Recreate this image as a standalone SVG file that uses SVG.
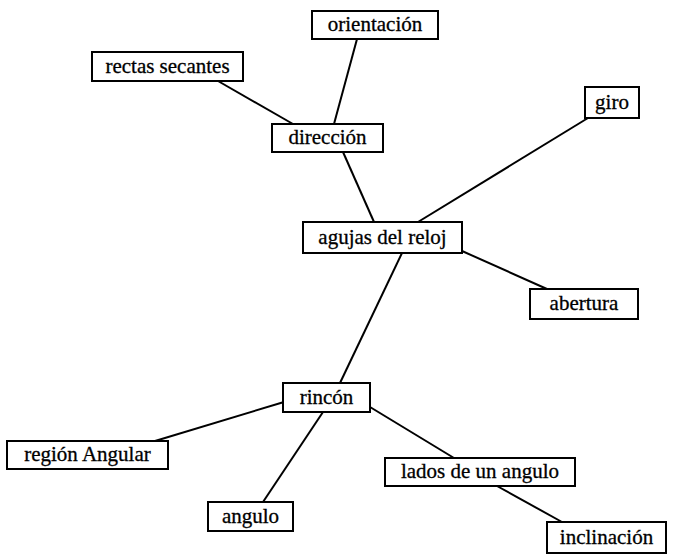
<svg xmlns="http://www.w3.org/2000/svg" width="675" height="555" viewBox="0 0 675 555">
  <style>
    .box { fill: #fff; stroke: #000; stroke-width: 2; }
    .lbl { font-family: "Liberation Serif", "DejaVu Serif", serif; font-size: 21px; fill: #000; stroke: #000; stroke-width: 0.3; text-anchor: middle; dominant-baseline: central; }
    .edge { stroke: #000; stroke-width: 2; fill: none; }
  </style>
  <rect width="675" height="555" fill="#fff"/>
  <g id="connectors">
    <line class="edge" x1="218" y1="81" x2="293" y2="124"/>
    <line class="edge" x1="357" y1="39" x2="334" y2="124"/>
    <line class="edge" x1="343" y1="152" x2="374" y2="222"/>
    <line class="edge" x1="588" y1="118" x2="418" y2="222"/>
    <line class="edge" x1="462" y1="251" x2="547" y2="289"/>
    <line class="edge" x1="402" y1="253" x2="340" y2="383"/>
    <line class="edge" x1="284" y1="402" x2="155" y2="441"/>
    <line class="edge" x1="323" y1="412" x2="263" y2="502"/>
    <line class="edge" x1="370" y1="407" x2="454" y2="458"/>
    <line class="edge" x1="497" y1="486" x2="562" y2="522"/>
  </g>
  <g id="orientacion">
    <rect class="box" x="312" y="11" width="126" height="28"/>
    <text class="lbl" x="375" y="24">orientación</text>
  </g>
  <g id="rectas-secantes">
    <rect class="box" x="92" y="52" width="151" height="29"/>
    <text class="lbl" x="167.5" y="65.5">rectas secantes</text>
  </g>
  <g id="direccion">
    <rect class="box" x="272" y="124" width="111" height="28"/>
    <text class="lbl" x="327.5" y="137">dirección</text>
  </g>
  <g id="giro">
    <rect class="box" x="585" y="87" width="54" height="31"/>
    <text class="lbl" x="612" y="101.5">giro</text>
  </g>
  <g id="agujas-del-reloj">
    <rect class="box" x="303" y="222" width="159" height="31"/>
    <text class="lbl" x="382.5" y="236.5">agujas del reloj</text>
  </g>
  <g id="abertura">
    <rect class="box" x="530" y="289" width="108" height="30"/>
    <text class="lbl" x="584" y="303">abertura</text>
  </g>
  <g id="rincon">
    <rect class="box" x="283" y="383" width="87" height="29"/>
    <text class="lbl" x="326.5" y="396.5">rincón</text>
  </g>
  <g id="region-angular">
    <rect class="box" x="7" y="441" width="161" height="28"/>
    <text class="lbl" x="87.5" y="454">región Angular</text>
  </g>
  <g id="lados-de-un-angulo">
    <rect class="box" x="385" y="458" width="190" height="28"/>
    <text class="lbl" x="480" y="471">lados de un angulo</text>
  </g>
  <g id="angulo">
    <rect class="box" x="208" y="502" width="85" height="29"/>
    <text class="lbl" x="250.5" y="515.5">angulo</text>
  </g>
  <g id="inclinacion">
    <rect class="box" x="547" y="522" width="119" height="31"/>
    <text class="lbl" x="606.5" y="536.5">inclinación</text>
  </g>
</svg>
